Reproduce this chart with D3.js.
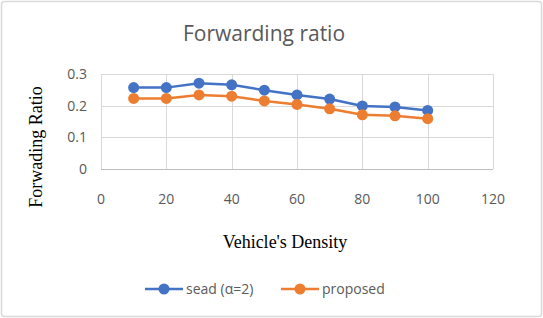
<!DOCTYPE html>
<html>
<head>
<meta charset="utf-8">
<script src="https://cdn.jsdelivr.net/npm/d3@7"></script>
<style>
  html, body { margin: 0; padding: 0; background: #fff; }
  svg { display: block; }
</style>
</head>
<body>
<svg id="chart"></svg>
<script>
// data
const density  = [10, 20, 30, 40, 50, 60, 70, 80, 90, 100];
const sead     = [0.257, 0.257, 0.271, 0.266, 0.249, 0.234, 0.221, 0.199, 0.196, 0.185];
const proposed = [0.223, 0.223, 0.234, 0.230, 0.215, 0.204, 0.190, 0.171, 0.168, 0.159];
const xTicks   = [0, 20, 40, 60, 80, 100, 120];
const yTicks   = [0, 0.1, 0.2, 0.3];

const series = [
  { name: 'sead (\u03b1=2)', values: sead,     color: '#4472C4' },
  { name: 'proposed',        values: proposed, color: '#ED7D31' }
];

const width = 543, height = 318;
const plot = { left: 101, right: 493, top: 74, bottom: 169 };

const svg = d3.select('#chart').attr('width', width).attr('height', height);

// outer frame
svg.append('rect')
  .attr('x', 1.5).attr('y', 1.5)
  .attr('width', width - 3).attr('height', height - 3)
  .attr('rx', 3)
  .attr('fill', '#fff').attr('stroke', '#d9d9d9').attr('stroke-width', 1.5);

const x = d3.scaleLinear().domain([0, 120]).range([plot.left, plot.right]);
const y = d3.scaleLinear().domain([0, 0.3]).range([plot.bottom, plot.top]);

const sans  = '"Open Sans", "Noto Sans", sans-serif';
const serif = '"Liberation Serif", "Times New Roman", serif';

// title
svg.append('text')
  .attr('x', 264).attr('y', 41)
  .attr('text-anchor', 'middle')
  .attr('font-family', sans)
  .attr('font-size', 21).attr('fill', '#595959')
  .text('Forwarding ratio');

// gridlines
const grid = svg.append('g');
grid.selectAll('line.h')
  .data(yTicks.filter(d => d > 0))
  .join('line')
  .attr('x1', plot.left).attr('x2', plot.right)
  .attr('y1', d => Math.round(y(d)) + 0.5).attr('y2', d => Math.round(y(d)) + 0.5)
  .attr('stroke', '#d9d9d9').attr('stroke-width', 1);
grid.selectAll('line.v')
  .data(xTicks)
  .join('line')
  .attr('x1', d => Math.round(x(d)) + 0.5).attr('x2', d => Math.round(x(d)) + 0.5)
  .attr('y1', plot.top).attr('y2', plot.bottom)
  .attr('stroke', '#d9d9d9').attr('stroke-width', 1);

// x axis line
svg.append('line')
  .attr('x1', plot.left).attr('x2', plot.right)
  .attr('y1', Math.round(y(0)) + 0.5).attr('y2', Math.round(y(0)) + 0.5)
  .attr('stroke', '#bfbfbf').attr('stroke-width', 1);

// tick labels
svg.append('g').selectAll('text')
  .data(xTicks)
  .join('text')
  .attr('x', d => x(d)).attr('y', 204)
  .attr('text-anchor', 'middle')
  .attr('font-family', sans).attr('font-size', 14).attr('fill', '#595959')
  .text(d3.format('d'));
svg.append('g').selectAll('text')
  .data(yTicks)
  .join('text')
  .attr('x', 87).attr('y', d => y(d) + 5)
  .attr('text-anchor', 'end')
  .attr('font-family', sans).attr('font-size', 14).attr('fill', '#595959')
  .text(d => d === 0 ? '0' : d3.format('.1f')(d));

// axis titles
svg.append('text')
  .attr('transform', 'translate(42,147) rotate(-90)')
  .attr('text-anchor', 'middle')
  .attr('font-family', serif)
  .attr('font-size', 18).attr('fill', '#000')
  .text('Forwading Ratio');
svg.append('text')
  .attr('x', 285).attr('y', 248)
  .attr('text-anchor', 'middle')
  .attr('font-family', serif)
  .attr('font-size', 18).attr('fill', '#000')
  .text("Vehicle's Density");

// lines + markers
const line = d3.line().x((d, i) => x(density[i])).y(d => y(d));
series.forEach(s => {
  svg.append('path')
    .datum(s.values)
    .attr('d', line)
    .attr('fill', 'none').attr('stroke', s.color).attr('stroke-width', 2.5)
    .attr('stroke-linejoin', 'round');
  svg.append('g').selectAll('circle')
    .data(s.values)
    .join('circle')
    .attr('cx', (d, i) => x(density[i]))
    .attr('cy', d => y(d))
    .attr('r', 5.5)
    .attr('fill', s.color);
});

// legend
const legendPos = [145, 281];
const lg = svg.append('g').selectAll('g')
  .data(series)
  .join('g')
  .attr('transform', (d, i) => `translate(${legendPos[i]},289)`);
lg.append('line')
  .attr('x1', 0).attr('x2', 38).attr('y1', 0).attr('y2', 0)
  .attr('stroke', d => d.color).attr('stroke-width', 2.5);
lg.append('circle')
  .attr('cx', 19).attr('cy', 0).attr('r', 5.5)
  .attr('fill', d => d.color);
lg.append('text')
  .attr('x', 41).attr('y', 5)
  .attr('font-family', sans).attr('font-size', 14).attr('fill', '#595959')
  .text(d => d.name);
</script>
</body>
</html>
